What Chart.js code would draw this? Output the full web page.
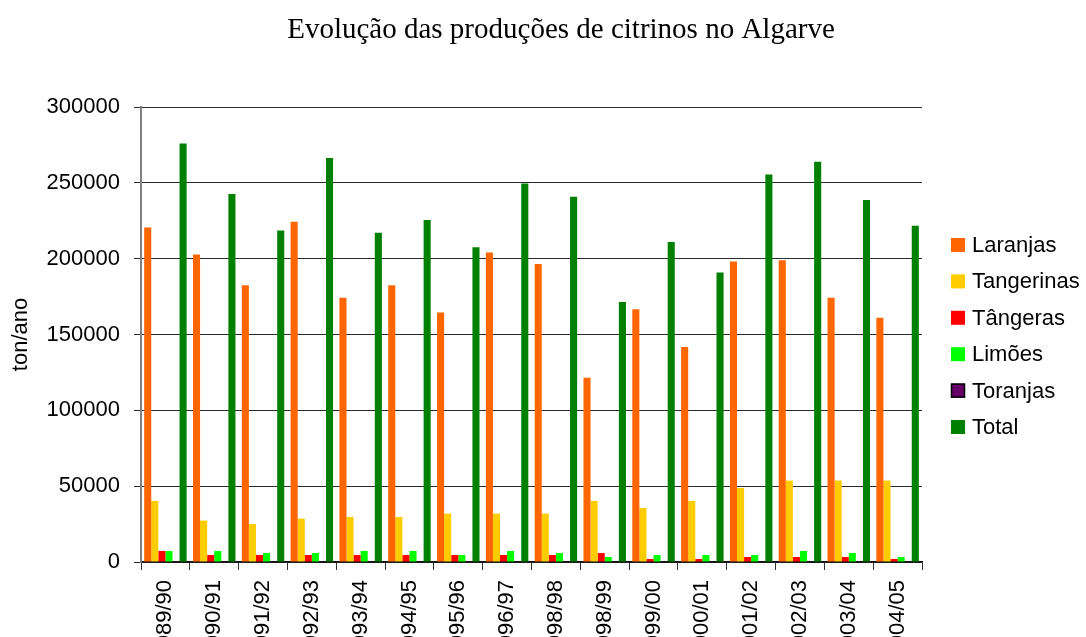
<!DOCTYPE html>
<html>
<head>
<meta charset="utf-8">
<style>
    body { margin: 0; background: #fff; overflow: hidden; }
</style>
</head>
<body>
<canvas id="citrusChart" width="1086" height="637"></canvas>

<script src="https://cdn.jsdelivr.net/npm/chart.js"></script>
<script type="text/javascript">
    // campaign years (the first two digits are cut off by the bottom edge in the original)
    const categories = ["1989/90", "1990/91", "1991/92", "1992/93", "1993/94", "1994/95", "1995/96", "1996/97",
                        "1998/98", "1998/99", "1999/00", "2000/01", "2001/02", "2002/03", "2003/04", "2004/05"];

    // production, ton/ano
    const laranjas   = [220600, 202700, 182500, 224400, 174200, 182500, 164500, 204100, 196500, 121500, 166700, 141700, 198100, 198900, 174200, 161000];
    const tangerinas = [40300, 27300, 25100, 28600, 29700, 29700, 31900, 31900, 31900, 40300, 35600, 40300, 48800, 53700, 53700, 53700];
    const tangeras   = [7300, 4600, 4600, 4600, 4600, 4600, 4600, 4600, 4600, 5900, 2000, 2000, 3300, 3300, 3300, 2000];
    const limoes     = [7300, 7300, 5900, 5900, 7300, 7300, 4600, 7300, 5900, 3300, 4600, 4600, 4600, 7300, 5900, 3300];
    const toranjas   = [700, 700, 700, 700, 700, 700, 700, 700, 700, 700, 0, 0, 0, 0, 0, 0];
    const total      = [275900, 242600, 218500, 266300, 217100, 225500, 207500, 249600, 240800, 171500, 211000, 190800, 255500, 263900, 238600, 221700];

    const seriesNames = ["Laranjas", "Tangerinas", "Tângeras", "Limões", "Toranjas", "Total"];
    const yTicks = [0, 50000, 100000, 150000, 200000, 250000, 300000];

    const chartTitle = "Evolução das produções de citrinos no Algarve";
    const yTitle = "ton/ano";

    Chart.defaults.font.family = "'Liberation Sans', Arial, sans-serif";
    Chart.defaults.color = "#000";

    // title and legend are placed by hand, like the spreadsheet chart they come from
    const frameText = {
        id: "frameText",
        afterDraw(chart) {
            const ctx = chart.ctx;
            ctx.save();
            ctx.fillStyle = "#000";
            ctx.font = "29px 'Liberation Serif', 'Times New Roman', serif";
            ctx.textAlign = "center";
            ctx.textBaseline = "alphabetic";
            ctx.fillText(chartTitle, 561, 38);

            ctx.font = "22px 'Liberation Sans', Arial, sans-serif";
            ctx.textAlign = "left";
            ctx.textBaseline = "middle";
            chart.data.datasets.forEach((ds, i) => {
                let y = 245 + i * 36.4;
                ctx.fillStyle = ds.backgroundColor;
                ctx.fillRect(951, y - 7, 14, 14);
                if (ds.label === "Toranjas") {
                    ctx.strokeStyle = "#000";
                    ctx.lineWidth = 1.5;
                    ctx.strokeRect(951.5, y - 6.5, 13, 13);
                }
                ctx.fillStyle = "#000";
                ctx.fillText(ds.label, 972, y + 1);
            });
            ctx.restore();
        }
    };

    const colors = ["#FF6600", "#FFCC00", "#FF0000", "#00FF00", "#660066", "#008000"];
    const values = [laranjas, tangerinas, tangeras, limoes, toranjas, total];

    const datasets = seriesNames.map((name, i) => ({
        label: name,
        data: values[i],
        backgroundColor: colors[i],
        borderColor: name === "Toranjas" ? "#000" : colors[i],
        borderWidth: name === "Toranjas" ? 1 : 0,
        categoryPercentage: 0.87,
        barPercentage: 1.0
    }));

    new Chart(document.getElementById("citrusChart").getContext("2d"), {
        type: "bar",
        data: { labels: categories, datasets: datasets },
        plugins: [frameText],
        options: {
            responsive: false,
            animation: false,
            layout: { padding: { top: 107, right: 164, left: 0, bottom: 0 } },
            plugins: {
                legend: { display: false },
                title: { display: false },
                tooltip: { enabled: false }
            },
            scales: {
                x: {
                    afterFit: (scale) => { scale.height = 75; },
                    grid: { offset: true, drawOnChartArea: false, drawTicks: true, tickLength: 8, color: "#333" },
                    border: { color: "#111", width: 1.5 },
                    ticks: {
                        autoSkip: false,
                        minRotation: 90,
                        maxRotation: 90,
                        padding: 10,
                        font: { size: 22 },
                        color: "#000"
                    }
                },
                y: {
                    min: 0,
                    max: 300000,
                    afterFit: (scale) => { scale.width = 141; },
                    afterBuildTicks: (scale) => { scale.ticks = yTicks.map(v => ({ value: v })); },
                    grid: { color: "#2a2a2a", lineWidth: 1, tickLength: 7 },
                    border: { color: "#808080", width: 2 },
                    ticks: {
                        padding: 14,
                        font: { size: 22 },
                        color: "#000",
                        callback: (value) => String(value)
                    },
                    title: {
                        display: true,
                        text: yTitle,
                        font: { size: 22 },
                        color: "#000",
                        padding: { top: 8, bottom: 0 }
                    }
                }
            }
        }
    });
</script>
</body>
</html>
